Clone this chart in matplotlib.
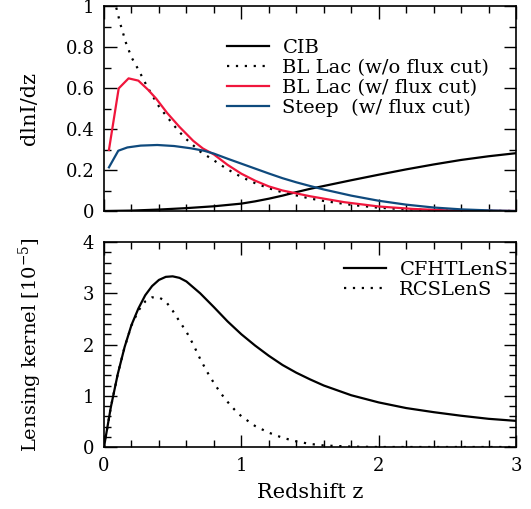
import matplotlib
matplotlib.use("Agg")
import matplotlib.pyplot as plt
from matplotlib.ticker import MultipleLocator, FormatStrFormatter

# ---- top panel: dlnI/dz ----
z_cib = [0.0, 0.2, 0.4, 0.6, 0.8, 1.0, 1.1, 1.2, 1.3, 1.4, 1.5, 1.6, 1.8, 2.0, 2.2, 2.4, 2.6, 2.8, 3.0]
cib = [0.0, 0.002, 0.007, 0.014, 0.023, 0.036, 0.047, 0.06, 0.075, 0.092, 0.108, 0.122,
       0.15, 0.177, 0.203, 0.227, 0.249, 0.267, 0.282]

z_bl_all = [0.07, 0.09, 0.12, 0.16, 0.2, 0.25, 0.3, 0.35, 0.4, 0.45, 0.5, 0.55, 0.6, 0.65, 0.7,
            0.8, 0.9, 1.0, 1.1, 1.2, 1.3, 1.4, 1.5, 1.6, 1.8, 2.0, 2.2, 2.5, 3.0]
bl_all = [1.05, 0.99, 0.91, 0.82, 0.75, 0.69, 0.625, 0.565, 0.51, 0.467, 0.425, 0.385, 0.35,
          0.32, 0.29, 0.247, 0.203, 0.166, 0.136, 0.111, 0.091, 0.076, 0.061, 0.049, 0.03,
          0.016, 0.008, 0.002, 0.0]

z_bl_cut = [0.036, 0.107, 0.179, 0.25, 0.32, 0.38, 0.46, 0.55, 0.65, 0.72, 0.8, 0.9, 1.0,
            1.1, 1.2, 1.3, 1.4, 1.5, 1.75, 2.0, 2.25, 2.5, 3.0]
bl_cut = [0.298, 0.598, 0.647, 0.636, 0.592, 0.548, 0.478, 0.41, 0.342, 0.305, 0.276, 0.225,
          0.182, 0.148, 0.12, 0.1, 0.086, 0.072, 0.043, 0.022, 0.01, 0.003, 0.0]

z_steep = [0.036, 0.104, 0.17, 0.267, 0.388, 0.51, 0.631, 0.728, 0.8, 0.9, 1.0, 1.1, 1.2, 1.3,
           1.4, 1.5, 1.6, 1.8, 2.0, 2.2, 2.4, 2.6, 2.8, 3.0]
steep = [0.213, 0.294, 0.31, 0.319, 0.322, 0.317, 0.306, 0.294, 0.28, 0.255, 0.231, 0.207,
         0.183, 0.16, 0.14, 0.122, 0.105, 0.075, 0.05, 0.031, 0.017, 0.008, 0.003, 0.0]

# ---- bottom panel: lensing kernel [1e-5] ----
z_cfht = [0.0, 0.05, 0.1, 0.15, 0.2, 0.25, 0.3, 0.35, 0.4, 0.45, 0.5, 0.55, 0.6, 0.7, 0.8, 0.9,
          1.0, 1.1, 1.2, 1.3, 1.4, 1.5, 1.6, 1.8, 2.0, 2.2, 2.4, 2.6, 2.8, 3.0]
cfht = [0.0, 0.78, 1.42, 1.95, 2.38, 2.7, 2.96, 3.14, 3.26, 3.32, 3.33, 3.3, 3.23, 3.0, 2.73,
        2.45, 2.2, 1.98, 1.78, 1.6, 1.45, 1.32, 1.2, 1.01, 0.87, 0.76, 0.68, 0.61, 0.55, 0.51]

z_rcs = [0.0, 0.05, 0.1, 0.15, 0.2, 0.25, 0.3, 0.35, 0.4, 0.45, 0.5, 0.55, 0.6, 0.65, 0.7, 0.75,
         0.8, 0.85, 0.9, 0.95, 1.0, 1.1, 1.2, 1.3, 1.4, 1.5, 1.6, 1.8, 2.0, 3.0]
rcs = [0.0, 0.78, 1.42, 1.95, 2.37, 2.66, 2.84, 2.92, 2.92, 2.84, 2.66, 2.45, 2.25, 2.0, 1.72,
       1.47, 1.25, 1.05, 0.88, 0.73, 0.6, 0.41, 0.28, 0.18, 0.11, 0.06, 0.03, 0.008, 0.0, 0.0]

RED = "#f0163c"
BLUE = "#0f4a7d"

plt.rcParams["font.family"] = "DejaVu Serif"
plt.rcParams["mathtext.fontset"] = "dejavuserif"

fig = plt.figure(figsize=(5.31, 5.09), dpi=100)
W, H = 531.0, 509.0
ax1 = fig.add_axes([104 / W, 1 - 211 / H, 412 / W, 205 / H])
ax2 = fig.add_axes([104 / W, 1 - 447 / H, 412 / W, 205 / H])

lw = 1.6
dots = (0, (1, 3))
ax1.plot(z_cib, cib, color="black", lw=lw, label="CIB")
ax1.plot(z_bl_all, bl_all, color="black", lw=lw, ls=dots, label="BL Lac (w/o flux cut)")
ax1.plot(z_bl_cut, bl_cut, color=RED, lw=lw, label="BL Lac (w/ flux cut)")
ax1.plot(z_steep, steep, color=BLUE, lw=lw, label="Steep  (w/ flux cut)")

ax2.plot(z_cfht, cfht, color="black", lw=lw, label="CFHTLenS")
ax2.plot(z_rcs, rcs, color="black", lw=lw, ls=dots, label="RCSLenS")

ax1.set_ylim(0, 1)
ax2.set_ylim(0, 4)
for ax in (ax1, ax2):
    ax.set_xlim(0, 3)
    ax.xaxis.set_major_locator(MultipleLocator(1))
    ax.xaxis.set_minor_locator(MultipleLocator(0.2))
    ax.tick_params(which="both", direction="in", top=True, right=True, labelsize=13)
    ax.tick_params(which="major", length=9, width=1, pad=7)
    ax.tick_params(which="minor", length=5, width=1)
    for s in ax.spines.values():
        s.set_linewidth(1.2)

ax1.yaxis.set_major_locator(MultipleLocator(0.2))
ax1.yaxis.set_minor_locator(MultipleLocator(0.1))
ax1.yaxis.set_major_formatter(plt.FuncFormatter(lambda v, p: "%g" % round(v, 2)))
ax1.tick_params(labelbottom=False)
ax2.yaxis.set_major_locator(MultipleLocator(1))
ax2.yaxis.set_minor_locator(MultipleLocator(0.2))
ax2.yaxis.set_major_formatter(FormatStrFormatter("%d"))

ax1.set_ylabel("dlnI/dz", fontsize=15, va="center")
ax2.set_ylabel(r"Lensing kernel [10$^{-5}$]", fontsize=14, va="center")
ax2.set_xlabel("Redshift z", fontsize=15, va="center")
ax1.yaxis.set_label_coords(-74 / 412, 0.5)
ax2.yaxis.set_label_coords(-74 / 412, 0.5)
ax2.xaxis.set_label_coords(0.5, -45 / 205)

leg_kw = dict(frameon=False, fontsize=14, handlelength=2.15, handletextpad=0.7,
              labelspacing=0.1, borderaxespad=0, borderpad=0, loc="upper left")
ax1.legend(bbox_to_anchor=(123 / 412, 172 / 205), **leg_kw)
ax2.legend(bbox_to_anchor=(240 / 412, 186 / 205), **leg_kw)

fig.savefig("out.png", dpi=100)
